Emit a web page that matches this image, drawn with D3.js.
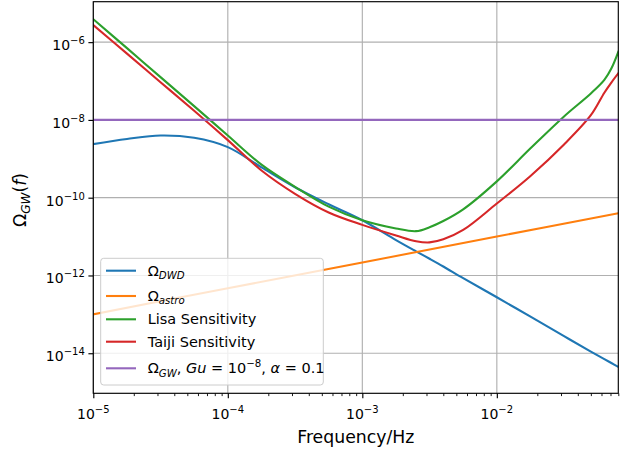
<!DOCTYPE html>
<html>
<head>
<meta charset="utf-8">
<script src="https://cdn.jsdelivr.net/npm/d3@7"></script>
<style>
  body { margin: 0; background: #fff; }
  svg { display: block; font-family: "DejaVu Sans", sans-serif; }
</style>
</head>
<body>
<svg width="624" height="450"></svg>
<script>
// frequencies (Hz) shared by the DWD / LISA / Taiji curves
var freq = [1e-5, 1.78e-5, 3.16e-5, 5.62e-5, 1e-4, 1.78e-4, 3.16e-4, 5.62e-4, 1e-3, 1.78e-3,
            2.51e-3, 3.16e-3, 4e-3, 5.62e-3, 1e-2, 1.78e-2, 3.16e-2, 5e-2, 6.3e-2, 7.1e-2, 8e-2];
var dwd = [2.40e-9, 3.24e-9, 3.98e-9, 3.47e-9, 2.0e-9, 6.03e-10, 1.86e-10, 6.76e-11, 2.63e-11, 8.13e-12,
           4.17e-12, 2.69e-12, 1.70e-12, 8.51e-13, 2.75e-13, 8.71e-14, 2.75e-14, 1.10e-14, 7.08e-15, 5.62e-15, 4.47e-15];
var lisa = [3.89e-6, 7.0e-7, 1.26e-7, 2.26e-8, 3.98e-9, 7.08e-10, 1.91e-10, 5.89e-11, 2.63e-11, 1.62e-11,
            1.38e-11, 1.74e-11, 2.51e-11, 5.01e-11, 2.63e-10, 1.86e-9, 1.23e-8, 4.79e-8, 1.07e-7, 2.09e-7, 5.62e-7];
var taiji = [2.75e-6, 5.07e-7, 9.33e-8, 1.72e-8, 3.02e-9, 5.01e-10, 1.26e-10, 4.17e-11, 2.0e-11, 1.07e-11,
             7.59e-12, 7.08e-12, 8.51e-12, 1.48e-11, 7.08e-11, 3.63e-10, 2.34e-9, 1.32e-8, 5.01e-8, 9.12e-8, 1.58e-7];
var astroFreq = [1e-5, 1e-4, 1e-3, 1e-2, 8e-2];
var astro = [1e-13, 4.7e-13, 2.15e-12, 1e-11, 4e-11];
var gwFreq = [1e-5, 8e-2];
var gw = [1e-8, 1e-8];

var xTicks = [1e-5, 1e-4, 1e-3, 1e-2];
var xTickExp = ["−5", "−4", "−3", "−2"];
var yTicks = [1e-14, 1e-12, 1e-10, 1e-8, 1e-6];
var yTickExp = ["−14", "−12", "−10", "−8", "−6"];

var colors = ["#1f77b4", "#ff7f0e", "#2ca02c", "#d62728", "#9467bd"];

var svg = d3.select("svg"),
    margin = { top: 1.7, right: 5.7, bottom: 56.7, left: 93.3 },
    width = 624 - margin.left - margin.right,
    height = 450 - margin.top - margin.bottom;

var x = d3.scaleLog().domain([1e-5, 8e-2]).range([0, width]),
    y = d3.scaleLog().domain([Math.pow(10, -15.03), Math.pow(10, -4.96)]).range([height, 0]);

var g = svg.append("g")
    .attr("transform", "translate(" + margin.left + "," + margin.top + ")");

// writes a little mathtext-like label into a <text> using tspans
function addMath(text, parts, small) {
    var shift = 0;
    parts.forEach(function(p) {
        var t = text.append("tspan").text(p.t);
        var target = p.sub ? small * 0.33 : (p.sup ? -small * 0.6 : 0);
        if (target !== shift) t.attr("dy", target - shift);
        shift = target;
        if (p.sub || p.sup) t.attr("font-size", small + "px");
        if (p.i) t.attr("font-style", "italic");
    });
}

g.append("clipPath").attr("id", "clip")
    .append("rect").attr("width", width).attr("height", height);

// grid
g.append("g").selectAll("line")
    .data(xTicks)
    .enter().append("line")
    .attr("x1", function(d) { return x(d); })
    .attr("x2", function(d) { return x(d); })
    .attr("y1", 0).attr("y2", height)
    .attr("stroke", "#b0b0b0").attr("stroke-width", 1.15);

g.append("g").selectAll("line")
    .data(yTicks)
    .enter().append("line")
    .attr("y1", function(d) { return y(d); })
    .attr("y2", function(d) { return y(d); })
    .attr("x1", 0).attr("x2", width)
    .attr("stroke", "#b0b0b0").attr("stroke-width", 1.15);

// curves
var line = d3.line()
    .x(function(d) { return x(d[0]); })
    .y(function(d) { return y(d[1]); })
    .curve(d3.curveCatmullRom.alpha(0.5));

function pairs(fs, vs) { return fs.map(function(f, i) { return [f, vs[i]]; }); }

var series = [
    pairs(freq, dwd),
    pairs(astroFreq, astro),
    pairs(freq, lisa),
    pairs(freq, taiji),
    pairs(gwFreq, gw)
];

g.append("g").attr("clip-path", "url(#clip)")
    .selectAll("path")
    .data(series)
    .enter().append("path")
    .attr("d", line)
    .attr("fill", "none")
    .attr("stroke", function(d, i) { return colors[i]; })
    .attr("stroke-width", 2.1)
    .attr("stroke-linejoin", "round")
    .attr("stroke-linecap", "square");

// axes
var minor = x.ticks().filter(function(d) { return xTicks.indexOf(d) < 0; });

var xAxis = g.append("g")
    .attr("transform", "translate(0," + height + ")")
    .call(d3.axisBottom(x).tickValues(xTicks).tickSize(4.9).tickFormat(function() { return ""; }));
xAxis.select(".domain").remove();
xAxis.selectAll(".tick line").attr("stroke", "#000").attr("stroke-width", 1.15);

g.append("g")
    .attr("transform", "translate(0," + height + ")")
    .call(d3.axisBottom(x).tickValues(minor).tickSize(2.8).tickFormat(function() { return ""; }))
    .call(function(a) {
        a.select(".domain").remove();
        a.selectAll(".tick line").attr("stroke", "#000").attr("stroke-width", 0.9);
    });

xTicks.forEach(function(d, i) {
    var t = g.append("text")
        .attr("x", x(d))
        .attr("y", height + 26)
        .attr("text-anchor", "middle")
        .attr("font-size", "14px")
        .attr("fill", "#000");
    addMath(t, [{ t: "10" }, { t: xTickExp[i], sup: true }], 10);
});

var yAxis = g.append("g")
    .call(d3.axisLeft(y).tickValues(yTicks).tickSize(4.9).tickFormat(function() { return ""; }));
yAxis.select(".domain").remove();
yAxis.selectAll(".tick line").attr("stroke", "#000").attr("stroke-width", 1.15);

yTicks.forEach(function(d, i) {
    var t = g.append("text")
        .attr("x", -8.5)
        .attr("y", y(d) + 8)
        .attr("text-anchor", "end")
        .attr("font-size", "14px")
        .attr("fill", "#000");
    addMath(t, [{ t: "10" }, { t: yTickExp[i], sup: true }], 10);
});

// frame
g.append("rect")
    .attr("width", width).attr("height", height)
    .attr("fill", "none").attr("stroke", "#000").attr("stroke-width", 1.15);

// axis labels
svg.append("text")
    .attr("x", margin.left + width / 2)
    .attr("y", 443.3)
    .attr("text-anchor", "middle")
    .attr("font-size", "17.3px")
    .text("Frequency/Hz");

var yl = svg.append("text")
    .attr("transform", "translate(25.5,200) rotate(-90)")
    .attr("text-anchor", "middle")
    .attr("font-size", "17.3px");
addMath(yl, [{ t: "Ω" }, { t: "GW", sub: true, i: true }, { t: "(" }, { t: "f", i: true }, { t: ")" }], 12.1);

// legend
var legendLabels = [
    [{ t: "Ω" }, { t: "DWD", sub: true, i: true }],
    [{ t: "Ω" }, { t: "astro", sub: true, i: true }],
    [{ t: "Lisa Sensitivity" }],
    [{ t: "Taiji Sensitivity" }],
    [{ t: "Ω" }, { t: "GW", sub: true, i: true }, { t: ", " }, { t: "Gu", i: true }, { t: " = 10" },
     { t: "−8", sup: true }, { t: ", " }, { t: "α", i: true }, { t: " = 0.1" }]
];
var legendRows = [270.7, 296, 319.3, 341.7, 368.3];

var legend = svg.append("g");
legend.append("rect")
    .attr("x", 100.7).attr("y", 258.3)
    .attr("width", 222.6).attr("height", 126.7)
    .attr("rx", 3)
    .attr("fill", "#fff").attr("fill-opacity", 0.8)
    .attr("stroke", "#cccccc").attr("stroke-width", 1);

legendLabels.forEach(function(parts, i) {
    legend.append("line")
        .attr("x1", 106).attr("x2", 136)
        .attr("y1", legendRows[i]).attr("y2", legendRows[i])
        .attr("stroke", colors[i]).attr("stroke-width", 2.1);
    var t = legend.append("text")
        .attr("x", 147.7)
        .attr("y", legendRows[i] + 5)
        .attr("font-size", "14.5px");
    addMath(t, parts, 10.2);
});
</script>
</body>
</html>
